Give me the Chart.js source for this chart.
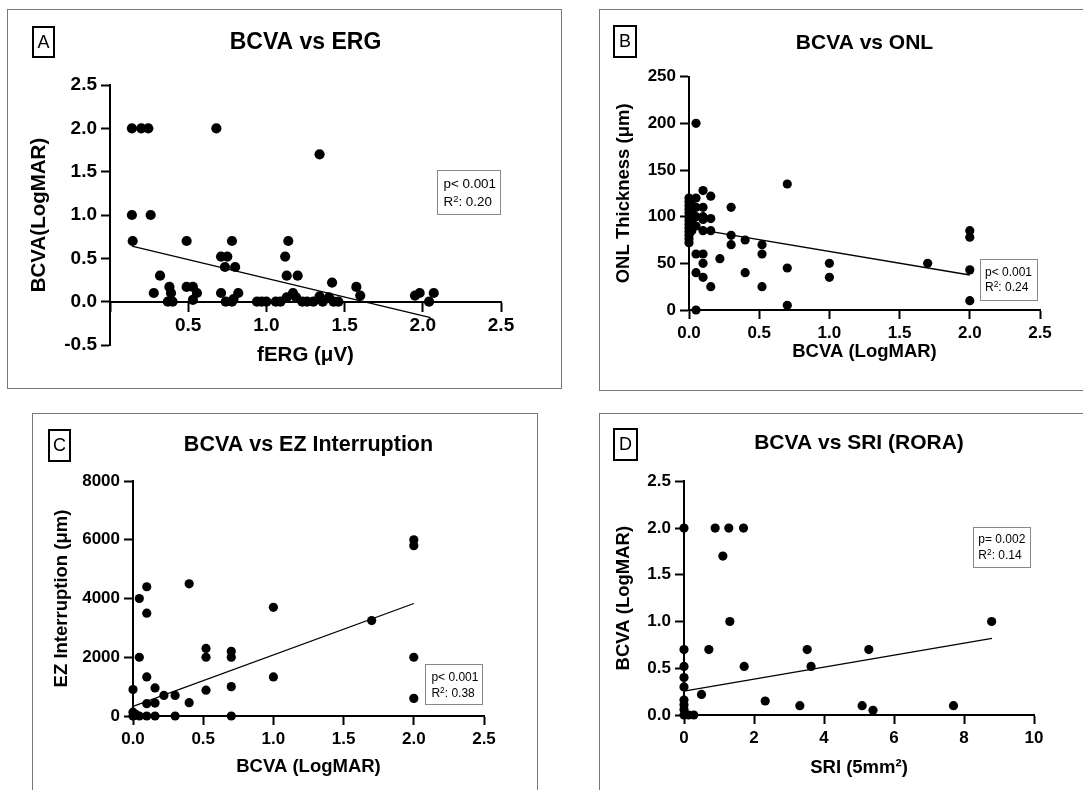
<!DOCTYPE html>
<html><head><meta charset="utf-8">
<script src="https://cdn.jsdelivr.net/npm/chart.js@4.4.1/dist/chart.umd.min.js"></script>
<style>
html,body{margin:0;padding:0;background:#fff;overflow:hidden;width:1083px;height:790px;}
.frame{position:absolute;border:1px solid #777;box-sizing:border-box;}
.lbl{position:absolute;border:2px solid #000;box-sizing:border-box;font-family:"Liberation Sans",Arial,sans-serif;font-size:18px;color:#000;display:flex;align-items:center;justify-content:center;}
.stat{position:absolute;border:1px solid #888;box-sizing:border-box;font-family:"Liberation Sans",Arial,sans-serif;color:#000;white-space:nowrap;}
.stat sup{font-size:0.7em;vertical-align:0.45em;line-height:0;}
canvas{position:absolute;}
</style></head>
<body>
<div class="frame" style="left:7px;top:9px;width:555px;height:380px;"></div>
<div class="frame" style="left:599px;top:9px;width:500px;height:382px;"></div>
<div class="frame" style="left:32px;top:413px;width:506px;height:400px;"></div>
<div class="frame" style="left:599px;top:413px;width:500px;height:400px;"></div>

<canvas id="cA" width="540" height="402" style="left:7px;top:9px;width:540px;height:402px;"></canvas>
<canvas id="cB" width="486" height="354" style="left:599px;top:9px;width:486px;height:354px;"></canvas>
<canvas id="cC" width="497" height="365" style="left:32px;top:413px;width:497px;height:365px;"></canvas>
<canvas id="cD" width="480" height="366" style="left:599px;top:413px;width:480px;height:366px;"></canvas>

<div class="lbl" style="left:32px;top:26px;width:23px;height:32px;">A</div>
<div class="lbl" style="left:613px;top:25px;width:24px;height:33px;">B</div>
<div class="lbl" style="left:48px;top:429px;width:23px;height:33px;">C</div>
<div class="lbl" style="left:613px;top:428px;width:25px;height:33px;">D</div>

<div class="stat" style="left:437px;top:170px;width:64px;height:45px;font-size:13.4px;line-height:18px;padding:4px 0 0 5.5px;">p&lt; 0.001<br>R<sup>2</sup>: 0.20</div>
<div class="stat" style="left:980px;top:259px;width:58px;height:42px;font-size:12px;line-height:15px;padding:5px 0 0 4px;">p&lt; 0.001<br>R<sup>2</sup>: 0.24</div>
<div class="stat" style="left:425px;top:664px;width:58px;height:41px;font-size:12px;line-height:16.5px;padding:3.8px 0 0 5.4px;">p&lt; 0.001<br>R<sup>2</sup>: 0.38</div>
<div class="stat" style="left:973px;top:527px;width:58px;height:41px;font-size:12px;line-height:16.3px;padding:2.9px 0 0 4.3px;">p= 0.002<br>R<sup>2</sup>: 0.14</div>

<script>
// ---------- Panel A: BCVA vs ERG ----------
const ergFERG = [0.14,0.20,0.245,0.68,1.34, 0.14,0.26, 0.145,0.49,0.78,1.14, 0.71,0.75,1.12, 0.735,0.80, 0.32,1.13,1.20, 1.42,
  0.28,0.38,0.39,0.37,0.40, 0.49,0.53,0.556,0.53, 0.71,0.74,0.78,0.82,0.79,
  0.94,0.97,1.00,1.06,1.09,1.13,1.17,1.19,1.23,1.26,1.30,1.34,1.36,1.40,1.43,1.46,
  1.575,1.60, 1.95,1.98,2.04,2.07];
const ergBCVA = [2.0,2.0,2.0,2.0,1.70, 1.0,1.0, 0.70,0.70,0.70,0.70, 0.52,0.52,0.52, 0.40,0.40, 0.30,0.30,0.30, 0.22,
  0.10,0.17,0.10,0,0, 0.17,0.17,0.10,0.02, 0.10,0,0,0.10,0.03,
  0,0,0,0,0,0.05,0.10,0.05,0,0,0,0.06,0,0.05,0,0,
  0.17,0.07, 0.07,0.10,0,0.10];
const ergFitX = [0.14, 2.05];
const ergFitY = [0.64, -0.185];

// ---------- Panel B: BCVA vs ONL ----------
const onlBCVA = [0,0,0,0,0,0,0,0,0,0,0,0,0, 0.02,0.02,0.02,0.02,
  0.05,0.05,0.05,0.05,0.05,0.05,0.05,0.05,
  0.10,0.10,0.10,0.10,0.10,0.10,0.10,0.10,
  0.155,0.155,0.155,0.155, 0.22, 0.30,0.30,0.30, 0.40,0.40, 0.52,0.52,0.52,
  0.70,0.70,0.70, 1.0,1.0, 1.70, 2.0,2.0,2.0,2.0];
const onlThick = [120,116,112,108,104,100,96,92,88,84,80,76,72, 118,105,95,85,
  200,120,110,100,90,60,40,0,
  128,110,100,97,85,60,50,35,
  122,98,85,25, 55, 110,80,70, 75,40, 70,60,25,
  135,45,5, 50,35, 50, 85,78,43,10];
const onlFitX = [0, 2.0];
const onlFitY = [88, 37.5];

// ---------- Panel C: BCVA vs EZ Interruption ----------
const ezBCVA = [0,0,0,0.02,0.045,0.045,0.045,0.098,0.098,0.098,0.098,0.098,0.157,0.157,0.157,0.22,0.30,0.30,0.40,0.40,
  0.52,0.52,0.52,0.70,0.70,0.70,0.70,1.0,1.0,1.70,2.0,2.0,2.0,2.0];
const ezInterr = [900,130,0,60,4000,2000,0,4400,3500,1330,420,0,955,440,0,700,700,0,4500,455,
  2300,2000,880,2200,2000,1000,0,3700,1330,3250,6000,5800,2000,600];
const ezFitX = [0, 2.0];
const ezFitY = [330, 3830];

// ---------- Panel D: BCVA vs SRI (RORA) ----------
const sriArea = [0,0,0,0,0,0,0,0,0,0.13,0.28,
  0.5,0.71,0.89,1.11,1.28,1.31,1.70,1.72,2.32,3.31,3.52,3.63,5.09,5.28,5.40,7.70,8.79];
const sriBCVA = [2.0,0.70,0.52,0.40,0.30,0.16,0.11,0.06,0,0,0,
  0.22,0.70,2.0,1.70,2.0,1.0,2.0,0.52,0.15,0.10,0.70,0.52,0.10,0.70,0.05,0.10,1.0];
const sriFitX = [0, 8.8];
const sriFitY = [0.255, 0.82];

const FONT = '"Liberation Sans", Arial, Helvetica, sans-serif';
const pts = (xs, ys) => xs.map((x, i) => ({x: x, y: ys[i]}));

function axisCfg(o) {
  return {
    type: 'linear',
    position: o.position,
    min: o.min, max: o.max,
    afterFit: o.fit,
    ticks: {stepSize: o.step, autoSkip: false, maxRotation: 0, padding: 4, color: '#000',
      font: {family: FONT, size: o.tickSize, weight: 'bold'}, callback: o.fmt},
    grid: {display: true, drawOnChartArea: false, drawTicks: true, tickLength: 9, tickWidth: 2, tickColor: '#000', color: '#000'},
    border: {display: true, color: '#000', width: 2},
    title: {display: true, text: o.title, color: '#000', padding: 0,
      font: {family: FONT, size: o.titleSize, weight: 'bold', lineHeight: 1.2}}
  };
}

function makeChart(id, p) {
  return new Chart(document.getElementById(id), {
    type: 'scatter',
    data: {datasets: [
      {data: pts(p.xs, p.ys), pointRadius: p.r, pointHoverRadius: p.r, backgroundColor: '#000', borderColor: '#000', borderWidth: 0, clip: false, order: 1},
      {data: pts(p.fitX, p.fitY), showLine: true, pointRadius: 0, borderColor: '#000', borderWidth: 1.3, clip: false, order: 0}
    ]},
    options: {
      responsive: false, animation: false, events: [],
      layout: {padding: p.pad},
      plugins: {
        legend: {display: false}, tooltip: {enabled: false},
        title: {display: true, text: p.title, fullSize: false, color: '#000',
          font: {family: FONT, size: p.titleSize, weight: 'bold', lineHeight: 1.2},
          padding: {top: 0, bottom: p.titlePadB}}
      },
      scales: {
        x: axisCfg({position: p.xPos, min: p.xMin, max: p.xMax, step: p.xStep, fmt: p.xFmt, title: p.xTitle,
          tickSize: p.tickSize, titleSize: p.axisTitleSize, fit: s => { s.height = p.xH; }}),
        y: axisCfg({position: 'left', min: p.yMin, max: p.yMax, step: p.yStep, fmt: p.yFmt, title: p.yTitle,
          tickSize: p.tickSize, titleSize: p.axisTitleSize, fit: s => { s.width = p.yW; }})
      }
    }
  });
}

const f1 = v => Number(v).toFixed(1);
const f0 = v => String(Math.round(v));

makeChart('cA', {xs: ergFERG, ys: ergBCVA, fitX: ergFitX, fitY: ergFitY, r: 5.1,
  title: 'BCVA vs ERG', titleSize: 23, titlePadB: 28.2, axisTitleSize: 20.5, tickSize: 19,
  pad: {left: 20.3, right: 46, top: 20.2, bottom: 66}, yW: 82.7, xH: 66,
  xPos: {y: 0}, xMin: 0, xMax: 2.5, xStep: 0.5, xFmt: v => (v === 0 ? '' : f1(v)), xTitle: 'fERG (\u03bcV)',
  yMin: -0.5, yMax: 2.5, yStep: 0.5, yFmt: f1, yTitle: 'BCVA(LogMAR)'});

makeChart('cB', {xs: onlBCVA, ys: onlThick, fitX: onlFitX, fitY: onlFitY, r: 4.6,
  title: 'BCVA vs ONL', titleSize: 21, titlePadB: 21.1, axisTitleSize: 18.5, tickSize: 17,
  pad: {left: 14.3, right: 45, top: 21.4, bottom: 0}, yW: 75.7, xH: 53,
  xPos: 'bottom', xMin: 0, xMax: 2.5, xStep: 0.5, xFmt: f1, xTitle: 'BCVA (LogMAR)',
  yMin: 0, yMax: 250, yStep: 50, yFmt: f0, yTitle: 'ONL Thickness (\u03bcm)'});

makeChart('cC', {xs: ezBCVA, ys: ezInterr, fitX: ezFitX, fitY: ezFitY, r: 4.6,
  title: 'BCVA vs EZ Interruption', titleSize: 21.5, titlePadB: 23.1, axisTitleSize: 18.5, tickSize: 17,
  pad: {left: 18.9, right: 45, top: 19.1, bottom: 0}, yW: 82.1, xH: 62,
  xPos: 'bottom', xMin: 0, xMax: 2.5, xStep: 0.5, xFmt: f1, xTitle: 'BCVA (LogMAR)',
  yMin: 0, yMax: 8000, yStep: 2000, yFmt: f0, yTitle: 'EZ Interruption (\u03bcm)'});

makeChart('cD', {xs: sriArea, ys: sriBCVA, fitX: sriFitX, fitY: sriFitY, r: 4.6,
  title: 'BCVA vs SRI (RORA)', titleSize: 21, titlePadB: 25.7, axisTitleSize: 18.5, tickSize: 17,
  pad: {left: 14.3, right: 45, top: 17.4, bottom: 0}, yW: 70.7, xH: 64,
  xPos: 'bottom', xMin: 0, xMax: 10, xStep: 2, xFmt: f0, xTitle: 'SRI (5mm\u00b2)',
  yMin: 0, yMax: 2.5, yStep: 0.5, yFmt: f1, yTitle: 'BCVA (LogMAR)'});
</script>
</body></html>
